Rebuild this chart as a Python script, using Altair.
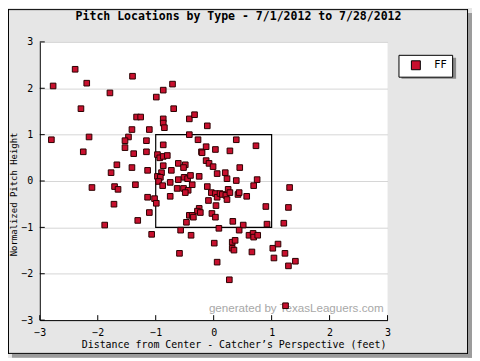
import altair as alt
import pandas as pd

# Pitch locations (feet from plate centre, normalized height)
plate_x = [
    -2.39, -2.77, -1.40, -2.19, -1.79, -2.29, -0.87, -0.71, -0.99, -0.69,
    -1.33, -1.26, -0.87, -0.87, -0.85, -0.42, -0.33, -0.11, -1.41, -1.11,
    -0.42, -2.80, -2.15, -1.47, -1.53, -1.16, -0.27, -2.25, -1.53, -1.38,
    -1.16, -0.87, -0.21, -0.20, -0.13, -0.97, -0.93, -0.87, -0.80, -0.13,
    -1.67, -1.41, -1.77, -1.14, -0.87, -0.61, -0.49, -0.52, -0.73, -0.90,
    -0.97, -0.92, -0.61, -0.51, -0.45, -0.40, -0.25, -0.95, -0.88, -0.75,
    -2.10, -1.71, -1.65, -1.35, -0.63, -0.52, -0.37, -0.11, 0.39, 0.03,
    0.73, 0.28, -0.08, -0.01, 0.06, 0.20, 0.45, 0.23, 0.39, 0.75,
    -0.44, -0.49, -0.04, 0.03, 0.06, 0.11, 0.15, 0.21, 0.25, 0.28,
    0.42, 0.44, 0.57, 0.69, 1.31, -1.14, -1.02, -0.99, -0.75, -0.09,
    0.23, 0.04, 0.90, 1.29, -1.11, -0.25, -0.28, -0.23, -0.03, -0.42,
    -0.37, -0.35, 0.03, -1.31, -0.47, 0.33, 0.92, 1.21, 0.51, -1.07,
    -0.57, -0.39, 0.09, 0.44, 0.61, 0.68, 0.69, 0.76, 0.01, 0.32,
    0.37, 0.32, 0.35, 0.66, -0.59, 0.06, 1.02, 1.11, 1.04, 1.23,
    1.41, 1.29, 0.27, 1.24, -1.72, -1.88,
]
plate_z = [
    2.41, 2.05, 2.26, 2.11, 1.90, 1.56, 1.96, 2.09, 1.81, 1.56,
    1.38, 1.38, 1.34, 1.25, 1.15, 1.34, 1.43, 1.19, 1.11, 1.11,
    1.00, 0.89, 0.95, 0.95, 0.87, 0.87, 0.89, 0.63, 0.72, 0.59,
    0.63, 0.78, 0.63, 0.61, 0.74, 0.57, 0.50, 0.53, 0.55, 0.44,
    0.35, 0.29, 0.18, 0.23, 0.33, 0.38, 0.35, 0.29, 0.23, 0.18,
    0.10, 0.08, 0.03, 0.08, 0.05, 0.12, 0.10, -0.01, -0.10, -0.03,
    -0.14, -0.12, -0.18, -0.08, -0.16, -0.16, -0.08, -0.12, 0.89, 0.68,
    0.76, 0.65, 0.38, 0.31, 0.16, 0.18, 0.29, 0.05, 0.01, 0.03,
    -0.20, -0.25, -0.25, -0.27, -0.35, -0.27, -0.29, -0.31, -0.18, -0.25,
    -0.29, -0.25, -0.33, -0.10, -0.14, -0.35, -0.38, -0.48, -0.33, -0.42,
    -0.40, -0.53, -0.55, -0.57, -0.68, -0.59, -0.65, -0.68, -0.70, -0.74,
    -0.74, -0.78, -0.78, -0.85, -0.89, -0.87, -0.93, -0.91, -0.95, -1.15,
    -1.06, -1.17, -1.02, -1.06, -1.17, -1.13, -1.21, -1.17, -1.34, -1.32,
    -1.28, -1.45, -1.49, -1.53, -1.56, -1.75, -1.45, -1.36, -1.66, -1.56,
    -1.73, -1.83, -2.13, -2.69, -0.50, -0.95,
]
pitch_type = "FF"
x_ticks = [-3, -2, -1, 0, 1, 2, 3]
y_ticks = [-3, -2, -1, 0, 1, 2, 3]
zone_x = [-1, 1]
zone_z = [-1, 1]

TITLE = "Pitch Locations by Type - 7/1/2012 to 7/28/2012"
X_TITLE = "Distance from Center - Catcher\u2019s Perspective (feet)"
Y_TITLE = "Normalized Pitch Height"
WATERMARK = "generated by TexasLeaguers.com"

W, H = 350, 280
MONO = "DejaVu Sans Mono"

df = pd.DataFrame({"px": plate_x, "pz": plate_z, "type": pitch_type})
xs = alt.Scale(domain=[-3, 3], nice=False, zero=False)
ys = alt.Scale(domain=[-3, 3], nice=False, zero=False)
one = alt.Data(values=[{"a": 1}])

x_axis = alt.Axis(
    values=x_ticks, ticks=False, grid=False, domainColor="black", domainWidth=1,
    labelFont=MONO, labelFontSize=10, labelColor="black", labelPadding=7,
    labelFlush=False, title=X_TITLE, titleFont=MONO, titleFontSize=10,
    titleFontWeight="normal", titleColor="black", titleX=195, titleY=20,
    titleBaseline="top", titleAlign="center")
y_axis = alt.Axis(
    values=y_ticks, ticks=False, grid=True, gridColor="#d6d6d6", gridWidth=1,
    domainColor="black", domainWidth=1,
    labelFont=MONO, labelFontSize=10, labelColor="black", labelPadding=7,
    labelFlush=False, title=Y_TITLE, titleFont=MONO, titleFontSize=9,
    titleFontWeight="normal", titleColor="black", titleX=-26, titleY=153,
    titleAngle=270, titleBaseline="middle", titleAlign="center")


def hline(x1, x2, y, color, width):
    return alt.Chart(one).mark_rule(color=color, strokeWidth=width).encode(
        x=alt.value(x1), x2=alt.value(x2), y=alt.value(y))


def vline(x, y1, y2, color, width):
    return alt.Chart(one).mark_rule(color=color, strokeWidth=width).encode(
        x=alt.value(x), y=alt.value(y1), y2=alt.value(y2))


points = alt.Chart(df).mark_square(size=32, opacity=1, stroke="#2a0000", strokeWidth=1).encode(
    x=alt.X("px:Q", scale=xs, axis=x_axis),
    y=alt.Y("pz:Q", scale=ys, axis=y_axis),
    color=alt.Color("type:N", scale=alt.Scale(domain=[pitch_type], range=["#c8102e"]),
                    legend=alt.Legend(
                        orient="none", legendX=361, legendY=13, title=None,
                        fillColor="white", strokeColor="black", padding=5,
                        symbolType="square", symbolSize=81, symbolStrokeColor="black",
                        symbolStrokeWidth=1, symbolOffset=7, labelOffset=13,
                        labelFont="DejaVu Sans", labelFontSize=11, labelColor="black")),
)

watermark = alt.Chart(one).mark_text(
    text=WATERMARK, align="right", baseline="alphabetic", font="Liberation Sans",
    fontSize=11.7, color="#a8a8a8").encode(x=alt.value(346), y=alt.value(272))

zone = alt.Chart(pd.DataFrame({"x1": [zone_x[0]], "x2": [zone_x[1]],
                               "z1": [zone_z[0]], "z2": [zone_z[1]]})).mark_rect(
    fill="transparent", stroke="black", strokeWidth=1.2).encode(
    x=alt.X("x1:Q", scale=xs, axis=x_axis), x2="x2:Q",
    y=alt.Y("z1:Q", scale=ys, axis=y_axis), y2="z2:Q")

xtick = alt.Chart(pd.DataFrame({"t": x_ticks})).mark_rule(color="black").encode(
    x=alt.X("t:Q", scale=xs, axis=x_axis), y=alt.value(H), y2=alt.value(H - 5))
ytick = alt.Chart(pd.DataFrame({"t": y_ticks})).mark_rule(color="black").encode(
    y=alt.Y("t:Q", scale=ys, axis=y_axis), x=alt.value(0), x2=alt.value(5))

# outer frame border and drop shadow
border = [
    hline(-32, 431, -32.5, "black", 1),
    hline(-32, 431, 313.5, "black", 1),
    vline(-31.5, -33, 314, "black", 1),
    vline(430.5, -33, 314, "black", 1),
    vline(433, -29, 318, "#9c9c9c", 4),
    hline(-28, 435, 316, "#9c9c9c", 4),
]

title = alt.Chart(one).mark_text(
    text=TITLE, align="center", baseline="alphabetic", font=MONO, fontSize=11.6,
    fontWeight="bold", color="black").encode(x=alt.value(200), y=alt.value(-22))

legend_shadow = alt.Chart(one).mark_rect(fill="#8a8a8a").encode(
    x=alt.value(364), x2=alt.value(419), y=alt.value(16), y2=alt.value(37))

chart = alt.layer(
    watermark, zone, xtick, ytick, points, *border, legend_shadow, title
).properties(
    width=W, height=H, background="#e6e6e6",
    padding={"left": 32, "top": 33, "right": 85, "bottom": 37},
    autosize=alt.AutoSizeParams(type="none"),
).configure_view(strokeWidth=0, fill="white")

chart.save("out.html", embed_options={"renderer": "svg", "actions": False})
